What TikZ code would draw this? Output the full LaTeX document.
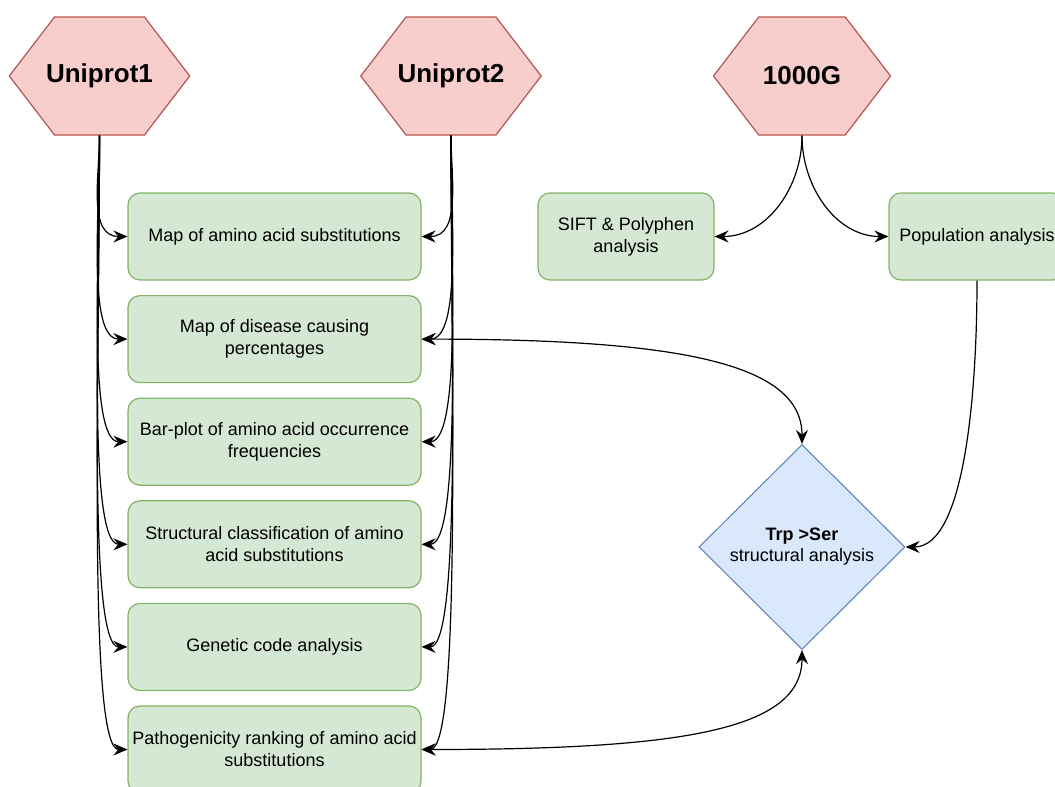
\documentclass[tikz,border=0pt]{standalone}
\usepackage{fontspec}
\setmainfont{Liberation Sans}
\usepackage{xcolor}
\usetikzlibrary{shapes, arrows, arrows.meta, positioning, calc}

\definecolor{rossoFondo}{HTML}{F8CECC}
\definecolor{rossoBordo}{HTML}{B85450}
\definecolor{verdeFondo}{HTML}{D5E8D4}
\definecolor{verdeBordo}{HTML}{82B366}
\definecolor{bluFondo}{HTML}{DAE8FC}
\definecolor{bluBordo}{HTML}{6C8EBF}

\begin{document}
\begin{tikzpicture}[x=0.5pt, y=-0.5pt,
        sorgente/.style={signal, signal to=west and east, signal pointer angle=105,
            draw=rossoBordo, fill=rossoFondo, line width=0.6pt, minimum height=59pt,
            minimum width=88.5pt, inner xsep=-4.25pt, font=\fontsize{13}{15}\selectfont\bfseries},
        analisi/.style={rectangle, rounded corners=6pt, draw=verdeBordo, fill=verdeFondo,
            line width=0.6pt, minimum width=146.5pt, minimum height=43.5pt, inner xsep=1pt,
            align=center, font=\fontsize{9}{11}\selectfont},
        rombo/.style={diamond, aspect=1, draw=bluBordo, fill=bluFondo, line width=0.6pt,
            minimum width=103pt, minimum height=102.5pt, inner sep=1pt,
            align=center, font=\fontsize{9}{10.5}\selectfont},
        freccia/.style={-{Stealth[length=7pt, width=6pt, inset=2.4pt]}, line width=0.6pt},
        doppia/.style={{Stealth[length=7pt, width=6pt, inset=2.4pt]}-{Stealth[length=7pt, width=6pt, inset=2.4pt]}, line width=0.6pt}]
                    \useasboundingbox (0,0) rectangle (1055,787);
                    \clip (0,0) rectangle (1055,787);

                    % sorgenti
                    \node[sorgente] (Sorgente1) at (99.5,76) {Uniprot1};
                    \node[sorgente] (Sorgente2) at (451,76) {Uniprot2};
                    \node[sorgente] (Sorgente3) at (802,76) {1000G};

                    % analisi sui dati Uniprot
                    \node[analisi] (Analisi1) at (274.5,236.5) {Map of amino acid substitutions};
                    \node[analisi] (Analisi2) at (274.5,339.1) {Map of disease causing\\percentages};
                    \node[analisi] (Analisi3) at (274.5,441.7) {Bar-plot of amino acid occurrence\\frequencies};
                    \node[analisi] (Analisi4) at (274.5,544.3) {Structural classification of amino\\acid substitutions};
                    \node[analisi] (Analisi5) at (274.5,646.9) {Genetic code analysis};
                    \node[analisi] (Analisi6) at (274.5,749.5) {Pathogenicity ranking of amino acid\\substitutions};

                    % analisi sui dati 1000G
                    \node[analisi, minimum width=88pt] (Sift) at (626,236.5) {SIFT \& Polyphen\\analysis};
                    \node[analisi, minimum width=88pt] (Popolazione) at (977,236.5) {Population analysis};

                    \node[rombo] (TrpSer) at (802,547) {\textbf{Trp >Ser}\\structural analysis};

                    \draw[freccia] (Sorgente1.south) to[out=-90, in=180, in max distance=20pt] (Analisi1.west);
                    \draw[freccia] (Sorgente1.south) to[out=-90, in=180, in max distance=20pt] (Analisi2.west);
                    \draw[freccia] (Sorgente1.south) to[out=-90, in=180, in max distance=20pt] (Analisi3.west);
                    \draw[freccia] (Sorgente1.south) to[out=-90, in=180, in max distance=20pt] (Analisi4.west);
                    \draw[freccia] (Sorgente1.south) to[out=-90, in=180, in max distance=20pt] (Analisi5.west);
                    \draw[freccia] (Sorgente1.south) to[out=-90, in=180, in max distance=20pt] (Analisi6.west);

                    \draw[freccia] (Sorgente2.south) to[out=-90, in=0, in max distance=20pt] (Analisi1.east);
                    \draw[freccia] (Sorgente2.south) to[out=-90, in=0, in max distance=20pt] (Analisi2.east);
                    \draw[freccia] (Sorgente2.south) to[out=-90, in=0, in max distance=20pt] (Analisi3.east);
                    \draw[freccia] (Sorgente2.south) to[out=-90, in=0, in max distance=20pt] (Analisi4.east);
                    \draw[freccia] (Sorgente2.south) to[out=-90, in=0, in max distance=20pt] (Analisi5.east);
                    \draw[freccia] (Sorgente2.south) to[out=-90, in=0, in max distance=20pt] (Analisi6.east);

                    \draw[freccia] (Sorgente3.south) to[out=-90, in=0] (Sift.east);
                    \draw[freccia] (Sorgente3.south) to[out=-90, in=180] (Popolazione.west);
                    \draw[freccia] (Popolazione.south) to[out=-90, in=0, in max distance=30pt] (TrpSer.east);

                    \draw[doppia] (Analisi2.east) .. controls +(260,0) and +(0,-80) .. (TrpSer.north);
                    \draw[doppia] (Analisi6.east) .. controls +(260,0) and +(0,80) .. (TrpSer.south);
                \end{tikzpicture}
\end{document}
